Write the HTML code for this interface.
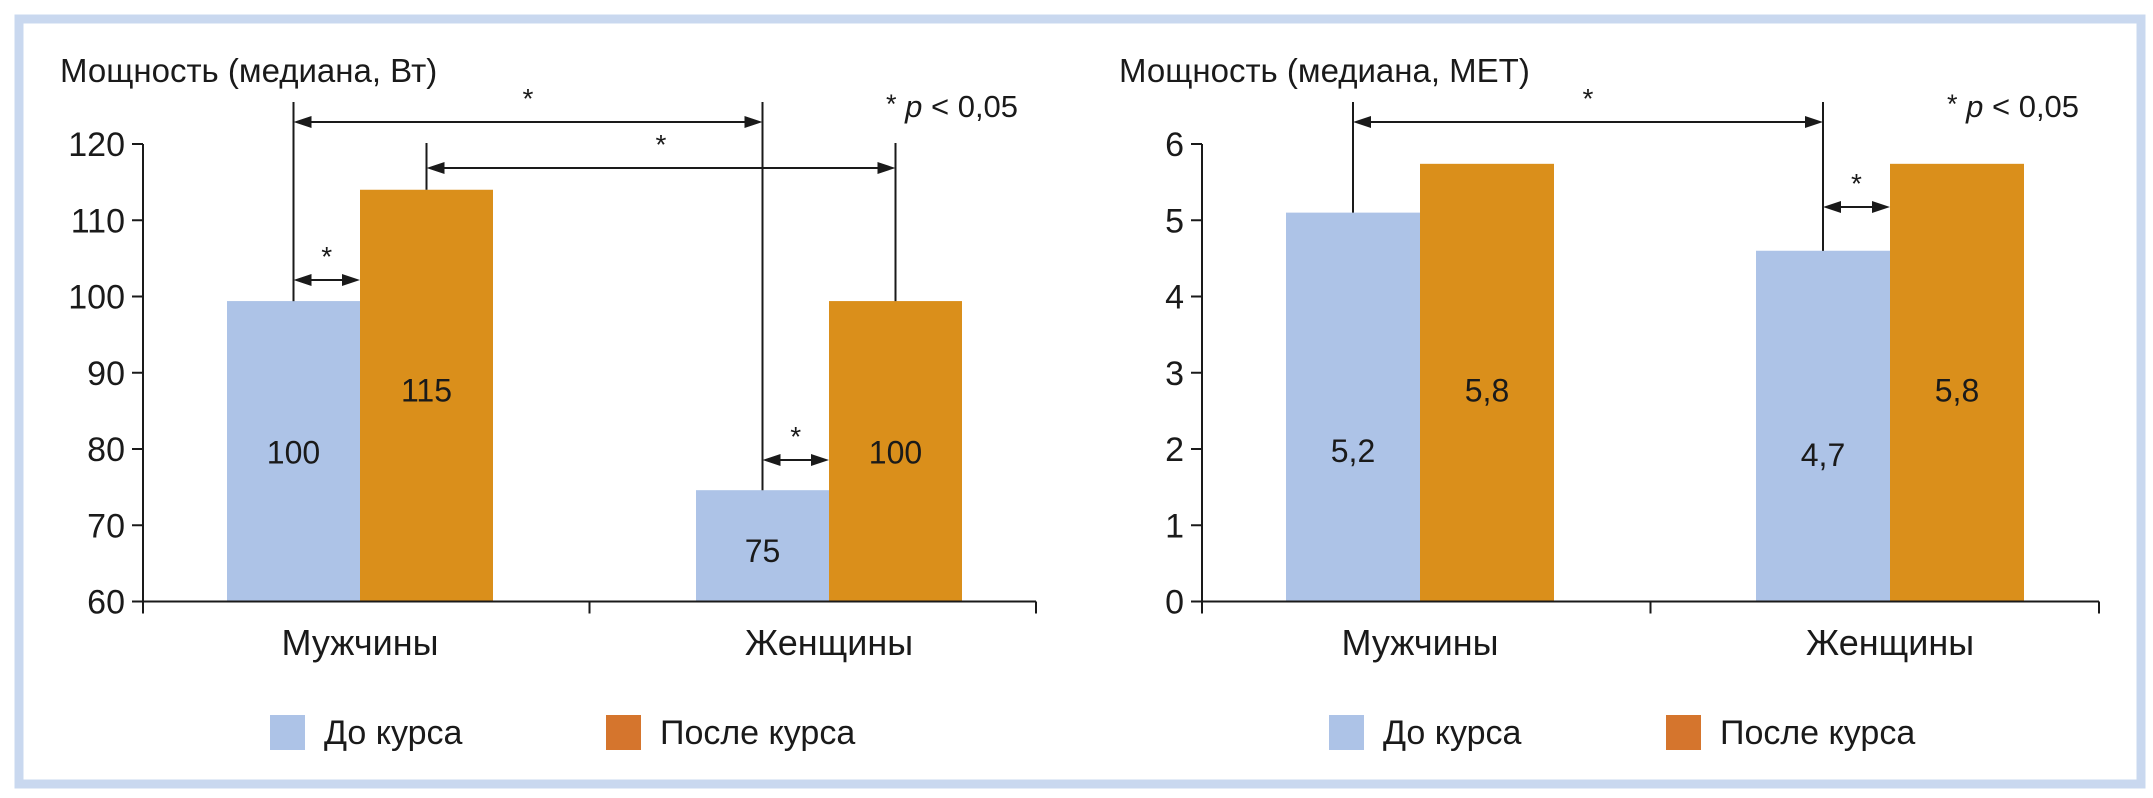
<!DOCTYPE html>
<html><head><meta charset="utf-8">
<style>
html,body{margin:0;padding:0;background:#fff;}
svg{display:block;}
text{font-family:"Liberation Sans",sans-serif;fill:#1a1a1a;}
</style></head>
<body>
<svg id="chart" width="2153" height="798" viewBox="0 0 2153 798" xmlns="http://www.w3.org/2000/svg">
<rect x="19" y="19" width="2122" height="765" fill="#fff" stroke="#c9d8ef" stroke-width="9"/>
</svg>
<script>
const categories = ["Мужчины", "Женщины"];
const seriesNames = ["До курса", "После курса"];
const wattBefore = [99.4, 74.6];
const wattAfter = [114, 99.4];
const wattBeforeLabels = ["100", "75"];
const wattAfterLabels = ["115", "100"];
const wattTicks = [60, 70, 80, 90, 100, 110, 120];
const metBefore = [5.1, 4.6];
const metAfter = [5.74, 5.74];
const metBeforeLabels = ["5,2", "4,7"];
const metAfterLabels = ["5,8", "5,8"];
const metTicks = [0, 1, 2, 3, 4, 5, 6];

const NS = "http://www.w3.org/2000/svg";
const svg = document.getElementById("chart");
const BLUE = "#adc3e7", ORANGE = "#da8f1b", LEG_ORANGE = "#d5752d";

function mk(tag, attrs, parent) {
  const e = document.createElementNS(NS, tag);
  for (const k in attrs) e.setAttribute(k, attrs[k]);
  (parent || svg).appendChild(e);
  return e;
}
function txt(x, y, s, size, anchor, parent) {
  const t = mk("text", {x: x, y: y, "font-size": size, "text-anchor": anchor || "middle"}, parent);
  t.textContent = s;
  return t;
}
function arrowH(g, x1, x2, y) {
  mk("line", {x1: x1 + 4, y1: y, x2: x2 - 4, y2: y, stroke: "#1a1a1a", "stroke-width": 2}, g);
  mk("polygon", {points: `${x1},${y} ${x1 + 18},${y - 6} ${x1 + 18},${y + 6}`, fill: "#1a1a1a"}, g);
  mk("polygon", {points: `${x2},${y} ${x2 - 18},${y - 6} ${x2 - 18},${y + 6}`, fill: "#1a1a1a"}, g);
}

function panel(cfg) {
  const g = mk("g", {});
  
  
  const y = v => cfg.yTop + (cfg.max - v) / (cfg.max - cfg.min) * (cfg.yBot - cfg.yTop);
  const groupW = (cfg.xEnd - cfg.ax) / categories.length;
  const cx = i => cfg.ax + cfg.firstOffset + cfg.step * i;
  const bw = cfg.barW;

  const title = txt(cfg.titleX, 82, cfg.title, 33, "start", g);
  
  

  const bx = [];
  categories.forEach((c, i) => {
    const xb = cx(i) - bw, xa = cx(i);
    bx.push([xb, xa]);
    const r1 = mk("rect", {x: xb, y: y(cfg.before[i]), width: bw, height: y(cfg.min) - y(cfg.before[i]), fill: BLUE}, g);
    
    
    const r2 = mk("rect", {x: xa, y: y(cfg.after[i]), width: bw, height: y(cfg.min) - y(cfg.after[i]), fill: ORANGE}, g);
    
    
    const l1 = txt(xb + bw / 2, (y(cfg.before[i]) + y(cfg.min)) / 2 + 12 + cfg.bOff[i], cfg.bLab[i], 32, "middle", g);
    
    
    const l2 = txt(xa + bw / 2, (y(cfg.after[i]) + y(cfg.min)) / 2 + 12 + cfg.aOff[i], cfg.aLab[i], 32, "middle", g);
    
    
    const cl = txt(cx(i), 655, c, 36, "middle", g);
    
    
  });

  const axes = mk("g", {stroke: "#1a1a1a", "stroke-width": 2}, g);
  
  
  mk("line", {x1: cfg.ax, y1: cfg.yTop, x2: cfg.ax, y2: cfg.yBot + 12}, axes);
  mk("line", {x1: cfg.ax, y1: cfg.yBot, x2: cfg.xEnd, y2: cfg.yBot}, axes);
  for (let i = 1; i <= categories.length; i++)
    mk("line", {x1: cfg.ax + groupW * i, y1: cfg.yBot, x2: cfg.ax + groupW * i, y2: cfg.yBot + 12}, axes);
  cfg.ticks.forEach(t => {
    mk("line", {x1: cfg.ax - 11, y1: y(t), x2: cfg.ax, y2: y(t)}, axes);
    const tl = txt(cfg.ax - 18, y(t) + 12, String(t), 34, "end", g);
    
    
  });

  const br = mk("g", {}, g);
  
  
  const ln = (x, y1, y2) => mk("line", {x1: x, y1: y1, x2: x, y2: y2, stroke: "#1a1a1a", "stroke-width": 2}, br);
  const star = (x, yy) => txt(x, yy + 12, "*", 28, "middle", br);
  cfg.brackets.forEach(b => {
    const x1 = bx[b.from[0]][b.from[1]] + bw / 2;
    const x2 = bx[b.to[0]][b.to[1]] + (b.small ? 0 : bw / 2);
    const v1 = b.from[1] === 0 ? cfg.before[b.from[0]] : cfg.after[b.from[0]];
    const v2 = b.to[1] === 0 ? cfg.before[b.to[0]] : cfg.after[b.to[0]];
    if (!b.small) { ln(x1, b.top, y(v1)); ln(x2, b.top, y(v2)); }
    else { ln(x1, b.y - 18, y(v1)); }
    arrowH(br, x1, x2, b.y);
    star((x1 + x2) / 2, b.y - 26);
  });

  const p = mk("text", {x: cfg.pX, y: 117, "font-size": 31, "text-anchor": "start"}, g);
  
  
  p.innerHTML = '<tspan font-size="27" dy="-4">*</tspan><tspan dy="4" font-style="italic"> p</tspan> &lt; 0,05';

  const lg = mk("g", {}, g);
  
  
  const cols = [BLUE, LEG_ORANGE];
  seriesNames.forEach((s, i) => {
    const lx = cfg.legX[i];
    const sw = mk("rect", {x: lx, y: 715, width: 35, height: 35, fill: cols[i]}, lg);
    
    
    const lt = txt(lx + 54, 744, s, 34, "start", lg);
    
    
  });
}

panel({
  name: "left-panel-watts", title: "Мощность (медиана, Вт)", titleX: 60,
  ax: 143, xEnd: 1036, yTop: 144, yBot: 601.5, min: 60, max: 120, barW: 133,
  firstOffset: 217, step: 469,
  before: wattBefore, after: wattAfter, bLab: wattBeforeLabels, aLab: wattAfterLabels,
  bOff: [0, 4], aOff: [-6, 0], ticks: wattTicks, pX: 886,
  brackets: [
    {from: [0, 0], to: [1, 0], top: 102, y: 122},
    {from: [0, 1], to: [1, 1], top: 143, y: 168},
    {from: [0, 0], to: [0, 1], y: 280, small: true},
    {from: [1, 0], to: [1, 1], y: 460, small: true}
  ],
  legX: [270, 606]
});
panel({
  name: "right-panel-met", title: "Мощность (медиана, МЕТ)", titleX: 1119,
  ax: 1202, xEnd: 2099, yTop: 144, yBot: 601.5, min: 0, max: 6, barW: 134,
  firstOffset: 218, step: 470,
  before: metBefore, after: metAfter, bLab: metBeforeLabels, aLab: metAfterLabels,
  bOff: [43, 28], aOff: [7, 7], ticks: metTicks, pX: 1947,
  brackets: [
    {from: [0, 0], to: [1, 0], top: 102, y: 122},
    {from: [1, 0], to: [1, 1], y: 207, small: true}
  ],
  legX: [1329, 1666]
});
</script>
</body></html>
